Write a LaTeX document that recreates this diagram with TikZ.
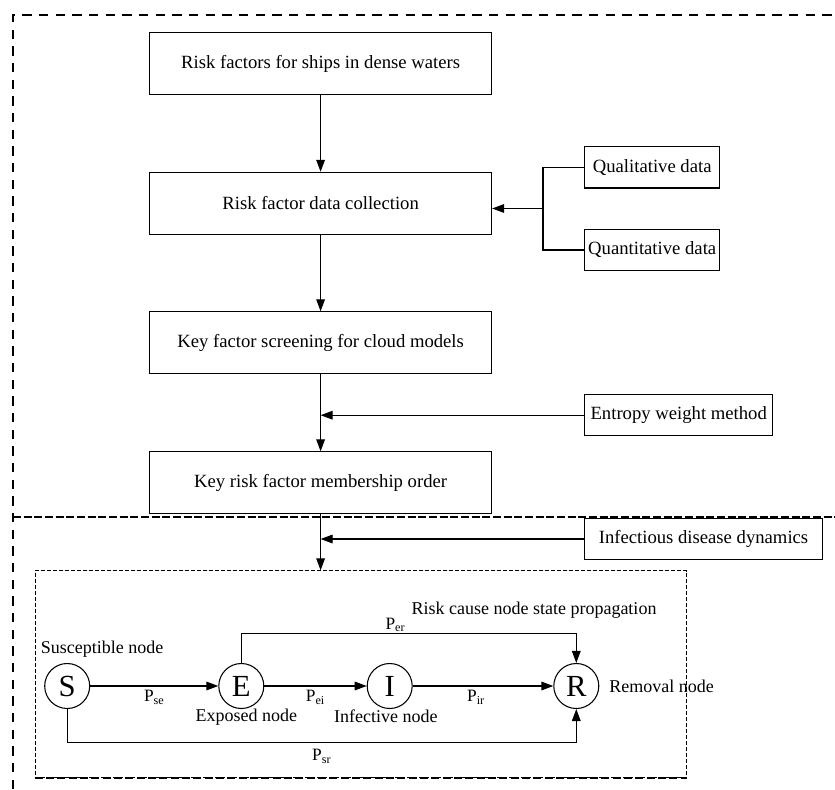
\documentclass[tikz,border=0pt]{standalone}
\usepackage{fontspec}
\setmainfont{Liberation Serif}
\usetikzlibrary{arrows.meta}

\begin{document}
\begin{tikzpicture}[x=0.75pt, y=-0.75pt, line width=0.8pt,
    >={Triangle[length=9pt,width=6.5pt]},
    box/.style={draw, minimum width=256.5pt, minimum height=46.5pt, inner sep=0pt, font=\fontsize{14}{16}\selectfont},
    sbox/.style={draw, fill=white, minimum height=31pt, inner sep=0pt, font=\fontsize{14}{16}\selectfont},
    st/.style={draw, circle, minimum size=33.75pt, inner sep=0pt, font=\fontsize{23}{25}\selectfont},
    lbl/.style={font=\fontsize{13.5}{15}\selectfont, inner sep=1pt},
    pr/.style={font=\fontsize{13}{15}\selectfont, inner sep=1pt},
    frame/.style={dash pattern=on 7pt off 5.5pt, line width=1.5pt}]

    \useasboundingbox (0,0) rectangle (835,789);

    \draw[frame] (13,789) -- (13,15) -- (835,15);
    \draw[dash pattern=on 6pt off 2pt, line width=1.5pt] (13,517.3) -- (835,517.3);

    \node[box] (a) at (320.6, 63.5) {Risk factors for ships in dense waters};
    \node[box] (b) at (320.6, 203.3) {Risk factor data collection};
    \node[box] (c) at (320.6, 342.8) {Key factor screening for cloud models};
    \node[box] (d) at (320.6, 482.8) {Key risk factor membership order};
    \node[sbox, minimum width=101.25pt] (ql) at (652.2, 167.3) {Qualitative data};
    \node[sbox, minimum width=101.25pt] (qn) at (652.2, 250) {Quantitative data};
    \node[sbox, minimum width=141pt] (ew) at (678.7, 415.2) {Entropy weight method};
    \node[sbox, minimum width=178.5pt] (id) at (703.5, 539) {Infectious disease dynamics};
    \coordinate (j) at (543, 208.5);

    \node[draw, dash pattern=on 3pt off 1.5pt, line width=0.6pt, minimum width=488.8pt, minimum height=155pt, inner sep=0pt] (f) at (360.85, 674) {};
    \draw[dash pattern=on 6pt off 2.5pt, line width=1.5pt] (f.south west) -- (f.south east);

    \node[st] (s) at (67.2, 686) {S};
    \node[st] (e) at (241.3, 686) {E};
    \node[st] (i) at (389.7, 686) {I};
    \node[st] (r) at (576.3, 686) {R};
    \node[lbl] (ls) at (102, 649) {Susceptible node};
    \node[lbl] (le) at (246.3, 716.7) {Exposed node};
    \node[lbl] (li) at (385.8, 716.7) {Infective node};
    \node[lbl] (lr) at (661.7, 686.7) {Removal node};
    \node[lbl] (lp) at (534, 610) {Risk cause node state propagation};

    \draw [->] (a) -- (b);
    \draw [->] (b) -- (c);
    \draw [->] (c) -- (d);
    \draw [->] (d) -- (d.south |- f.north);
    \draw (ql) -| (j);
    \draw (qn) -| (j);
    \draw [->] (j) -- (j -| b.east);
    \draw [->] (ew) -- (ew -| c);
    \draw [->] (id) -- (id -| d);

    \draw [->] (s) -- node[pr, below=2pt] {P\textsubscript{se}} (e);
    \draw [->] (e) -- node[pr, below=2pt] {P\textsubscript{ei}} (i);
    \draw [->] (i) -- node[pr, below=2pt, pos=0.45] {P\textsubscript{ir}} (r);
    \draw [->] (e.north) -- ++(0,-29.2) -| node[pr, above, pos=0.23] {P\textsubscript{er}} (r.north);
    \draw [->] (s.south) -- ++(0,33.2) -| node[pr, below=4pt, pos=0.25] {P\textsubscript{sr}} (r.south);

\end{tikzpicture}
\end{document}
